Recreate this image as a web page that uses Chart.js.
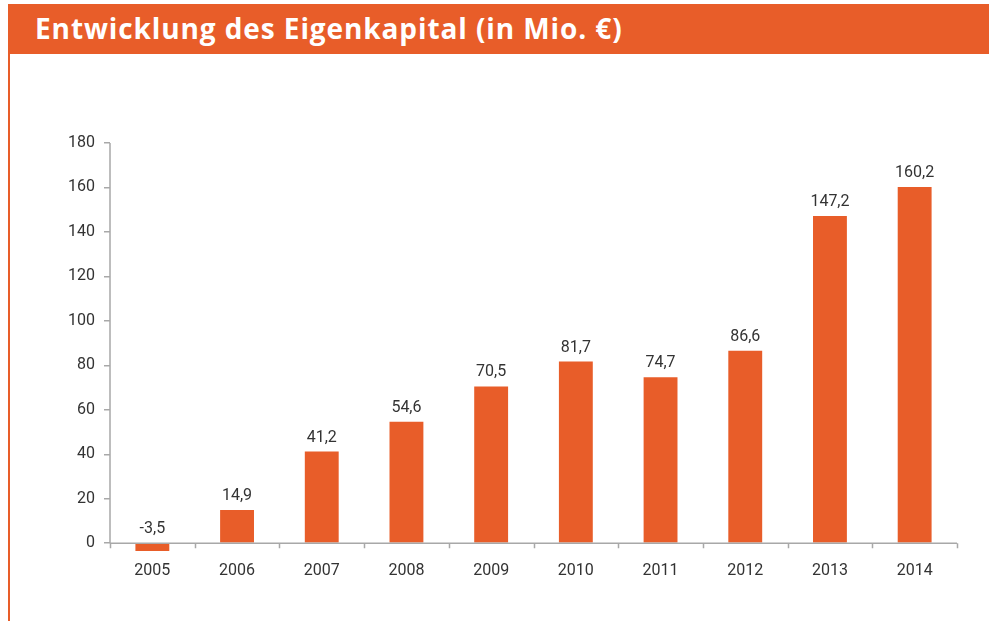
<!DOCTYPE html>
<html lang="de">
<head>
<meta charset="utf-8">
<title>Entwicklung des Eigenkapital</title>
<script src="https://cdn.jsdelivr.net/npm/chart.js@4.4.1/dist/chart.umd.min.js"></script>
<style>
  html, body { margin: 0; padding: 0; background: #fff; }
  body { width: 989px; height: 621px; position: relative; overflow: hidden; }
  #kopf {
    position: absolute; left: 8px; top: 4px; width: 981px; height: 50px;
    background: #e85d29; color: #fff;
    font-family: "Open Sans", sans-serif; font-weight: 700; font-size: 28px;
    letter-spacing: 0.9px;
    line-height: 49px; padding-left: 27px; box-sizing: border-box;
  }
  #linie { position: absolute; left: 8px; top: 4px; width: 2px; height: 617px; background: #e85d29; }
  #wrap { position: absolute; left: 0; top: 0; width: 989px; height: 621px; }
</style>
</head>
<body>
<div id="wrap"><canvas id="eigenkapital"></canvas></div>
<div id="linie"></div>
<div id="kopf">Entwicklung des Eigenkapital (in Mio. €)</div>

<script>
// Daten
const jahre = ['2005', '2006', '2007', '2008', '2009', '2010', '2011', '2012', '2013', '2014'];
const eigenkapital = [-3.5, 14.9, 41.2, 54.6, 70.5, 81.7, 74.7, 86.6, 147.2, 160.2];
const yTicks = [0, 20, 40, 60, 80, 100, 120, 140, 160, 180];

const orange = '#e85d29';
const achsenFarbe = '#a8a8a8';
const textFarbe = '#333333';
const schrift = 'Roboto, sans-serif';

// Achsenlinien bei 0 mit Teilstrichen zwischen den Kategorien
const achsenPlugin = {
    id: 'achsen',
    afterDatasetsDraw(chart) {
        const ctx = chart.ctx;
        const x = chart.scales.x;
        const y = chart.scales.y;
        const y0 = y.getPixelForValue(0);
        const yTop = y.getPixelForValue(yTicks[yTicks.length - 1]);
        ctx.save();
        ctx.strokeStyle = achsenFarbe;
        ctx.lineWidth = 1.5;
        ctx.beginPath();
        ctx.moveTo(x.left, yTop);
        ctx.lineTo(x.left, y0);
        ctx.moveTo(x.left, y0);
        ctx.lineTo(x.right, y0);
        const breite = (x.right - x.left) / jahre.length;
        for (let i = 0; i <= jahre.length; i++) {
            const px = Math.round(x.left + i * breite) + 0.5;
            ctx.moveTo(px, y0);
            ctx.lineTo(px, y0 + 5);
        }
        ctx.stroke();
        ctx.restore();
    }
};

// Werte über den Balken (mit Komma)
const wertePlugin = {
    id: 'werte',
    afterDatasetsDraw(chart) {
        const ctx = chart.ctx;
        const meta = chart.getDatasetMeta(0);
        const y0 = chart.scales.y.getPixelForValue(0);
        ctx.save();
        ctx.font = '16px ' + schrift;
        ctx.fillStyle = textFarbe;
        ctx.textAlign = 'center';
        ctx.textBaseline = 'bottom';
        meta.data.forEach(function(bar, i) {
            const wert = eigenkapital[i];
            const top = wert < 0 ? y0 : bar.y;
            ctx.fillText(wert.toFixed(1).replace('.', ','), bar.x, top - 6);
        });
        ctx.restore();
    }
};

const ctx = document.getElementById('eigenkapital').getContext('2d');
const chart = new Chart(ctx, {
    type: 'bar',
    data: {
        labels: jahre,
        datasets: [{
            label: 'Eigenkapital',
            data: eigenkapital,
            backgroundColor: orange,
            borderWidth: 0,
            barPercentage: 0.4,
            categoryPercentage: 1.0
        }]
    },
    options: {
        responsive: true,
        maintainAspectRatio: false,
        animation: false,
        layout: {
            padding: { left: 0, top: 143, right: 32, bottom: 0 }
        },
        plugins: {
            legend: { display: false },
            tooltip: { enabled: false },
            title: { display: false }
        },
        scales: {
            x: {
                grid: { display: false },
                border: { display: false },
                ticks: {
                    color: textFarbe,
                    font: { family: schrift, size: 16 },
                    padding: 2,
                    maxRotation: 0
                },
                afterFit: function(scale) { scale.height = 70; }
            },
            y: {
                min: -3.5,
                max: 180,
                grid: {
                    drawOnChartArea: false,
                    drawTicks: true,
                    tickLength: 6,
                    color: achsenFarbe,
                    lineWidth: 1.5
                },
                border: { display: false },
                afterBuildTicks: function(scale) {
                    scale.ticks = yTicks.map(function(v) { return { value: v }; });
                },
                ticks: {
                    color: textFarbe,
                    font: { family: schrift, size: 16 },
                    padding: 9
                },
                afterFit: function(scale) { scale.width = 110; }
            }
        }
    },
    plugins: [achsenPlugin, wertePlugin]
});
</script>
</body>
</html>
